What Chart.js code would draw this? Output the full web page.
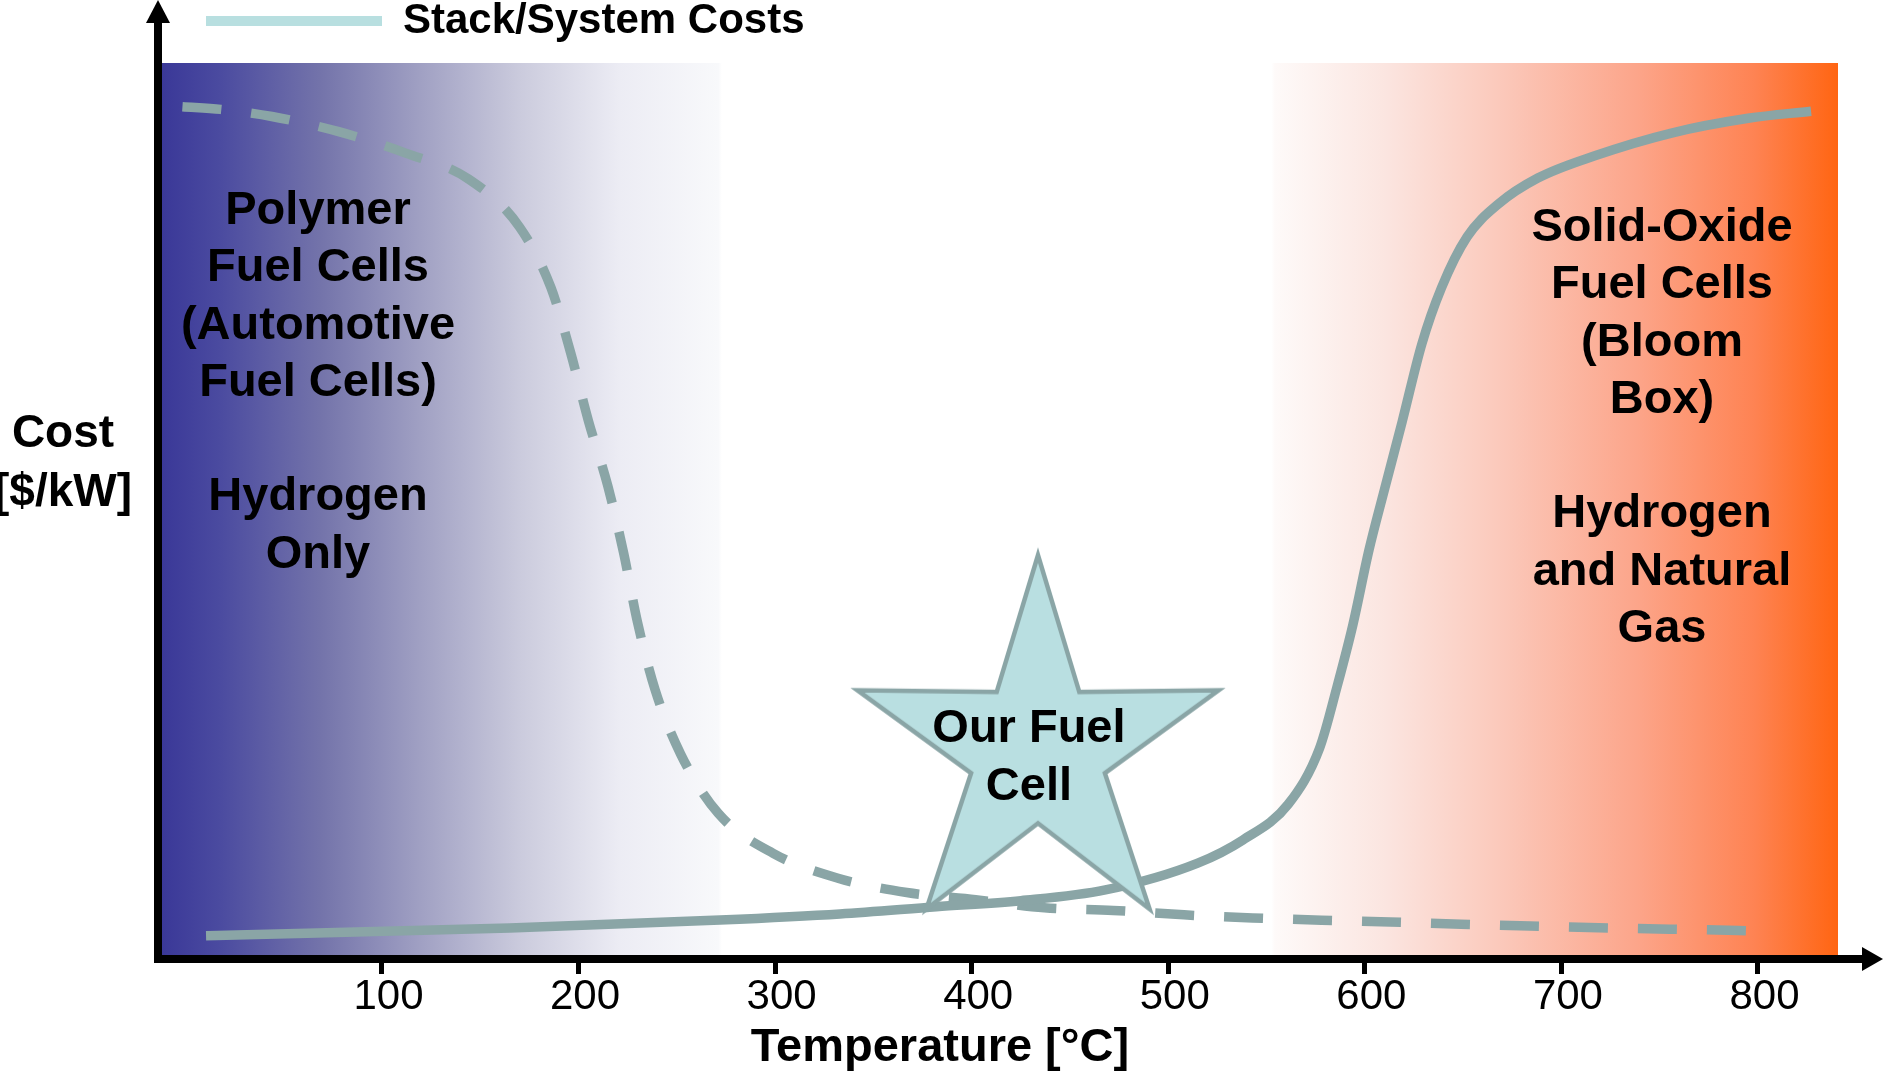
<!DOCTYPE html>
<html>
<head>
<meta charset="utf-8">
<title>Stack/System Costs vs Temperature</title>
<script src="https://cdn.jsdelivr.net/npm/chart.js@4.4.1/dist/chart.umd.min.js"></script>
<style>
  html, body { margin: 0; padding: 0; background: #ffffff; }
  canvas { display: block; }
</style>
</head>
<body>
<canvas id="costChart" width="1883" height="1074"></canvas>
<script>
// ---- values -------------------------------------------------------------
const temperatureTicks = [100, 200, 300, 400, 500, 600, 700, 800];

// Polymer (low temperature) fuel cells: cost falls as temperature rises
const polymerTemp = [-1.5, 18, 44, 78, 112, 144, 170, 186, 196, 205, 215, 223, 230, 239, 252, 271,
                     299, 332, 367, 402, 437, 472, 508, 543, 578, 613, 649, 684, 719, 755, 790, 800];
const polymerCost = [95.1, 94.8, 94.0, 92.3, 89.9, 87.0, 81.6, 74.8, 67.5, 59.9, 52.5, 45.0, 37.3, 29.7, 22.5, 15.9,
                     11.4, 8.6, 7.0, 6.2, 5.3, 5.0, 4.5, 4.15, 3.9, 3.7, 3.45, 3.25, 3.05, 2.9, 2.75, 2.7];

// Solid-oxide (high temperature) fuel cells: cost climbs steeply above 500 °C
const solidOxideTemp = [10.5, 165, 272, 333, 382, 425, 468, 515, 538, 561, 577, 586, 594, 602,
                        610, 619, 629, 639, 652, 668, 688, 717, 756, 795, 827];
const solidOxideCost = [2.16, 3.03, 3.92, 4.6, 5.41, 6.09, 7.29, 10.3, 12.9, 16.9, 23.2, 30.2, 37.1, 45.3,
                        52.2, 59.8, 68.5, 74.8, 80.5, 84.2, 87.1, 89.6, 92.15, 93.8, 94.6];

// Our fuel cell: intermediate temperature, low cost
const ourCellTemp = [433.7];
const ourCellCost = [22.9];

// ---- text ---------------------------------------------------------------
const legendLabel = 'Stack/System Costs';
const xTitle = 'Temperature [°C]';
const yTitle = ['Cost', '[$/kW]'];
const polymerText = ['Polymer', 'Fuel Cells', '(Automotive', 'Fuel Cells)', '', 'Hydrogen', 'Only'];
const solidOxideText = ['Solid-Oxide', 'Fuel Cells', '(Bloom', 'Box)', '', 'Hydrogen', 'and Natural', 'Gas'];
const ourCellText = ['Our Fuel', 'Cell'];

// ---- styling ------------------------------------------------------------
const FONT = "'Liberation Sans', Arial, Helvetica, sans-serif";
const CURVE = '#8aa5a6';
const STAR_FILL = '#b9dfe1';
const LEGEND_FILL = '#b8dfe0';
const PAD_LEFT = 162;

const toPoints = (xs, ys) => xs.map((x, i) => ({ x: x, y: ys[i] }));

// five-pointed star used as the point style of the "our fuel cell" marker
function makeStar() {
  const size = 440;
  const c = document.createElement('canvas');
  c.width = size; c.height = size;
  const g = c.getContext('2d');
  const cx = size / 2, cy = size / 2, R = 195.7, r = 72.5, sx = 0.97;
  g.beginPath();
  for (let k = 0; k < 10; k++) {
    const ang = (-90 + k * 36) * Math.PI / 180;
    const rad = k % 2 ? r : R;
    const px = cx + sx * rad * Math.cos(ang);
    const py = cy + rad * Math.sin(ang);
    if (k === 0) g.moveTo(px, py); else g.lineTo(px, py);
  }
  g.closePath();
  g.fillStyle = STAR_FILL;
  g.fill();
  g.lineWidth = 4.5;
  g.lineJoin = 'miter';
  g.miterLimit = 10;
  g.strokeStyle = CURVE;
  g.stroke();
  return c;
}

// legend swatch: a bar that begins a little to the right of the plot edge
function legendFill(chart) {
  const g = chart.ctx.createLinearGradient(PAD_LEFT, 0, PAD_LEFT + 220, 0);
  g.addColorStop(0, 'rgba(184,223,224,0)');
  g.addColorStop(0.2, 'rgba(184,223,224,0)');
  g.addColorStop(0.2001, LEGEND_FILL);
  g.addColorStop(1, LEGEND_FILL);
  return g;
}

// blue-to-white-to-orange temperature band behind the plot
const backdrop = {
  id: 'backdrop',
  beforeDraw(chart) {
    const { ctx, chartArea: a } = chart;
    ctx.save();
    ctx.fillStyle = '#ffffff';
    ctx.fillRect(0, 0, chart.width, chart.height);
    const g = ctx.createLinearGradient(a.left, 0, a.right, 0);
    g.addColorStop(0.000, '#3a3898');
    g.addColorStop(0.035, '#4b4ba0');
    g.addColorStop(0.094, '#7373aa');
    g.addColorStop(0.154, '#a0a0c3');
    g.addColorStop(0.214, '#cbcbdd');
    g.addColorStop(0.273, '#ececf4');
    g.addColorStop(0.332, '#f8f9fb');
    g.addColorStop(0.334, '#ffffff');
    g.addColorStop(0.662, '#ffffff');
    g.addColorStop(0.664, '#fefaf9');
    g.addColorStop(0.730, '#fbe5e0');
    g.addColorStop(0.800, '#fbc8ba');
    g.addColorStop(0.880, '#fca58a');
    g.addColorStop(0.950, '#fe8353');
    g.addColorStop(1.000, '#ff6512');
    ctx.fillStyle = g;
    ctx.fillRect(a.left, a.top, a.width, a.height);
    ctx.restore();
  }
};

function textLines(ctx, lines, x, y0, step) {
  lines.forEach((t, i) => { if (t) ctx.fillText(t, x, y0 + i * step); });
}

// axes with arrow heads, axis captions and region notes
const annotations = {
  id: 'annotations',
  afterDraw(chart) {
    const { ctx, chartArea: a } = chart;
    ctx.save();
    ctx.fillStyle = '#000000';

    // vertical axis
    ctx.fillRect(a.left - 8, 22, 8, a.bottom + 8 - 22);
    ctx.beginPath();
    ctx.moveTo(a.left - 4, 0);
    ctx.lineTo(a.left - 16, 23);
    ctx.lineTo(a.left + 8, 23);
    ctx.closePath();
    ctx.fill();

    // horizontal axis
    ctx.fillRect(a.left - 8, a.bottom, 1863 - (a.left - 8), 8);
    ctx.beginPath();
    ctx.moveTo(1883, a.bottom + 4);
    ctx.lineTo(1862, a.bottom - 8);
    ctx.lineTo(1862, a.bottom + 16);
    ctx.closePath();
    ctx.fill();

    ctx.textAlign = 'center';
    ctx.textBaseline = 'middle';

    ctx.font = 'bold 46px ' + FONT;
    textLines(ctx, yTitle, 63, 434, 59);

    ctx.font = 'bold 47px ' + FONT;
    ctx.fillText(xTitle, 940, 1048);

    textLines(ctx, polymerText, 318, 211, 57.3);
    textLines(ctx, solidOxideText, 1662, 228, 57.3);

    const star = chart.getDatasetMeta(0).data[0];
    textLines(ctx, ourCellText, star.x - 9, star.y - 22, 58.5);

    ctx.restore();
  }
};

const chart = new Chart(document.getElementById('costChart'), {
  type: 'line',
  data: {
    datasets: [
      {
        label: 'Our Fuel Cell',
        data: toPoints(ourCellTemp, ourCellCost),
        showLine: false,
        pointStyle: makeStar(),
        pointRadius: 10,
        order: 0
      },
      {
        label: 'Solid-Oxide Fuel Cells',
        data: toPoints(solidOxideTemp, solidOxideCost),
        borderColor: CURVE,
        borderWidth: 9.5,
        borderCapStyle: 'butt',
        pointRadius: 0,
        cubicInterpolationMode: 'monotone',
        fill: false,
        order: 1
      },
      {
        label: 'Polymer Fuel Cells',
        data: toPoints(polymerTemp, polymerCost),
        borderColor: CURVE,
        borderWidth: 9.5,
        borderDash: [39, 30],
        borderCapStyle: 'butt',
        pointRadius: 0,
        cubicInterpolationMode: 'monotone',
        fill: false,
        order: 2
      }
    ]
  },
  options: {
    responsive: false,
    animation: false,
    events: [],
    layout: { padding: { left: PAD_LEFT, right: 45, top: 0, bottom: 0 } },
    scales: {
      x: {
        type: 'linear',
        min: -11.9,
        max: 840.7,
        afterBuildTicks: (scale) => { scale.ticks = temperatureTicks.map(v => ({ value: v })); },
        afterFit: (scale) => { scale.height = 119; },
        border: { display: false },
        grid: {
          display: true,
          drawOnChartArea: false,
          drawTicks: true,
          tickLength: 19,
          tickWidth: 5,
          tickColor: '#000000',
          color: '#000000',
          lineWidth: 5
        },
        ticks: {
          color: '#000000',
          font: { family: FONT, size: 42 },
          padding: -2,
          labelOffset: 6.5,
          maxRotation: 0,
          autoSkip: false,
          callback: (v) => String(v)
        }
      },
      y: { display: false, min: 0, max: 100 }
    },
    plugins: {
      legend: {
        display: true,
        position: 'top',
        align: 'start',
        labels: {
          padding: 0,
          boxWidth: 220,
          boxHeight: 10,
          color: '#000000',
          font: { family: FONT, size: 42, weight: 'bold' },
          generateLabels: (c) => [{
            text: legendLabel,
            fillStyle: legendFill(c),
            strokeStyle: 'rgba(0,0,0,0)',
            lineWidth: 0,
            hidden: false,
            datasetIndex: 1
          }]
        }
      },
      title: {
        display: true,
        text: '',
        position: 'top',
        weight: 500,
        padding: 0,
        font: { size: 11, lineHeight: 1 }
      },
      tooltip: { enabled: false }
    }
  },
  plugins: [backdrop, annotations]
});
</script>
</body>
</html>
